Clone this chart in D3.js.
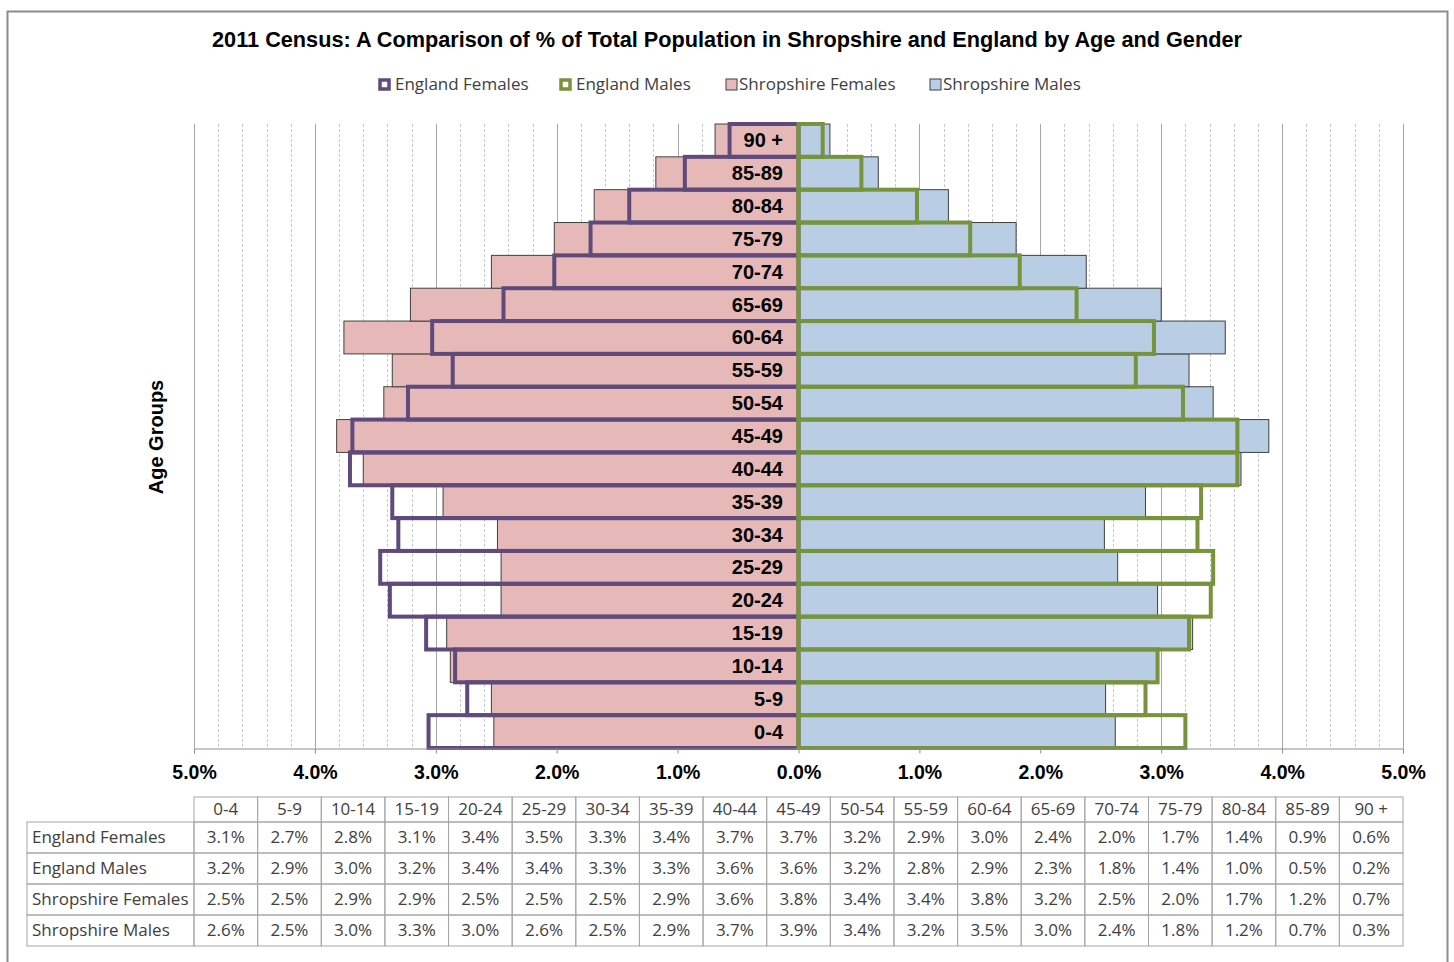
<!DOCTYPE html>
<html>
<head>
<meta charset="utf-8">
<script src="https://cdn.jsdelivr.net/npm/d3@7"></script>
<style>
  body { margin: 0; background: #fff; }
  svg { display: block; }
</style>
</head>
<body>
<div id="chart"></div>
<script>
// Age groups, youngest first
const ageGroups = ["0-4", "5-9", "10-14", "15-19", "20-24", "25-29", "30-34", "35-39", "40-44",
  "45-49", "50-54", "55-59", "60-64", "65-69", "70-74", "75-79", "80-84", "85-89", "90 +"];

// % of total population
const englandFemales = [3.06, 2.74, 2.84, 3.08, 3.38, 3.46, 3.31, 3.36, 3.71, 3.69,
  3.23, 2.86, 3.03, 2.44, 2.02, 1.72, 1.40, 0.94, 0.57];
const englandMales = [3.20, 2.87, 2.97, 3.23, 3.41, 3.43, 3.30, 3.33, 3.63, 3.63,
  3.18, 2.79, 2.94, 2.30, 1.83, 1.42, 0.98, 0.52, 0.20];
const shropshireFemales = [2.52, 2.54, 2.88, 2.91, 2.46, 2.46, 2.49, 2.94, 3.60, 3.82,
  3.43, 3.36, 3.76, 3.21, 2.54, 2.02, 1.69, 1.18, 0.69];
const shropshireMales = [2.62, 2.54, 2.97, 3.26, 2.97, 2.64, 2.53, 2.87, 3.66, 3.89,
  3.43, 3.23, 3.53, 3.00, 2.38, 1.80, 1.24, 0.66, 0.26];

const axisTicks = [-5, -4, -3, -2, -1, 0, 1, 2, 3, 4, 5];

const series = [
  { name: "England Females", values: englandFemales, side: -1, kind: "outline", color: "#604a7b" },
  { name: "England Males", values: englandMales, side: 1, kind: "outline", color: "#77933c" },
  { name: "Shropshire Females", values: shropshireFemales, side: -1, kind: "fill", color: "#e6b9b8" },
  { name: "Shropshire Males", values: shropshireMales, side: 1, kind: "fill", color: "#b9cde5" }
];

const width = 1454, height = 962;
const sans = "'Liberation Sans', Arial, sans-serif";
const calibri = "'Open Sans', 'Noto Sans', sans-serif";

const svg = d3.select("#chart").append("svg")
  .attr("width", width)
  .attr("height", height);

// outer frame
svg.append("rect")
  .attr("x", 7.5).attr("y", 11.5)
  .attr("width", 1440).attr("height", 960)
  .attr("fill", "#fff")
  .attr("stroke", "#8c8c8c")
  .attr("stroke-width", 2);

const x = d3.scaleLinear().domain([-5, 5]).range([194, 1403]);
const y = d3.scaleBand().domain(ageGroups.slice().reverse()).range([124, 748]).padding(0);

// Title
svg.append("text")
  .attr("x", 727).attr("y", 47)
  .attr("text-anchor", "middle")
  .attr("font-family", sans)
  .attr("font-weight", "bold")
  .attr("font-size", "21.7px")
  .attr("fill", "#000")
  .text("2011 Census: A Comparison of % of Total Population in Shropshire and England by Age and Gender");

// Legend
const legendX = [378, 559, 725, 929];
const legend = svg.append("g").selectAll("g")
  .data(series)
  .join("g")
  .attr("transform", (d, i) => `translate(${legendX[i]},84)`);

legend.append("rect")
  .attr("x", d => d.kind === "outline" ? 2 : 1)
  .attr("y", d => d.kind === "outline" ? -4 : -5)
  .attr("width", d => d.kind === "outline" ? 9 : 11)
  .attr("height", d => d.kind === "outline" ? 9 : 11)
  .attr("fill", d => d.kind === "outline" ? "#fff" : d.color)
  .attr("stroke", d => d.kind === "outline" ? d.color : "#404040")
  .attr("stroke-width", d => d.kind === "outline" ? 3.5 : 1);

legend.append("text")
  .attr("x", d => d.kind === "outline" ? 17 : 14)
  .attr("y", 6)
  .attr("font-family", calibri)
  .attr("font-size", "17px")
  .attr("fill", "#404040")
  .text(d => d.name);

// Gridlines: minor every 0.2%, major every 1%
const minor = d3.range(-50, 51, 2).map(v => v / 10).filter(v => Math.abs(v % 1) > 0.01);
svg.append("g").selectAll("line")
  .data(minor)
  .join("line")
  .attr("x1", d => Math.round(x(d)) + 0.5).attr("x2", d => Math.round(x(d)) + 0.5)
  .attr("y1", 124).attr("y2", 748)
  .attr("stroke", "#c8c8c8")
  .attr("stroke-dasharray", "3,2");

svg.append("g").selectAll("line")
  .data(axisTicks)
  .join("line")
  .attr("x1", d => Math.round(x(d)) + 0.5).attr("x2", d => Math.round(x(d)) + 0.5)
  .attr("y1", 124).attr("y2", 748)
  .attr("stroke", "#a6a6a6");

// Shropshire filled bars
const fills = series.filter(s => s.kind === "fill");
fills.forEach(s => {
  svg.append("g").selectAll("rect")
    .data(s.values)
    .join("rect")
    .attr("x", v => Math.min(x(0), x(s.side * v)))
    .attr("y", (v, i) => y(ageGroups[i]))
    .attr("width", v => Math.abs(x(s.side * v) - x(0)))
    .attr("height", y.bandwidth())
    .attr("fill", s.color)
    .attr("stroke", "#404040")
    .attr("stroke-width", 1);
});

// England outline bars
const outlines = series.filter(s => s.kind === "outline");
outlines.forEach(s => {
  svg.append("g").selectAll("rect")
    .data(s.values)
    .join("rect")
    .attr("x", v => Math.min(x(0), x(s.side * v)))
    .attr("y", (v, i) => y(ageGroups[i]))
    .attr("width", v => Math.abs(x(s.side * v) - x(0)))
    .attr("height", y.bandwidth())
    .attr("fill", "none")
    .attr("stroke", s.color)
    .attr("stroke-width", 4);
});

// X axis
const xAxis = d3.axisBottom(x)
  .tickValues(axisTicks)
  .tickSize(5)
  .tickFormat(d => Math.abs(d).toFixed(1) + "%");

const gx = svg.append("g")
  .attr("transform", "translate(0,748.5)")
  .call(xAxis);
gx.select(".domain").attr("stroke", "#8c8c8c");
gx.selectAll(".tick line").attr("stroke", "#8c8c8c");
gx.selectAll(".tick text")
  .attr("y", 17)
  .attr("font-family", sans)
  .attr("font-weight", "bold")
  .attr("font-size", "19.5px")
  .attr("fill", "#000");

// Age group labels
svg.append("g").selectAll("text")
  .data(ageGroups)
  .join("text")
  .attr("x", 783)
  .attr("y", d => y(d) + y.bandwidth() / 2 + 7)
  .attr("text-anchor", "end")
  .attr("font-family", sans)
  .attr("font-weight", "bold")
  .attr("font-size", "20px")
  .attr("fill", "#000")
  .text(d => d);

// Y axis title
svg.append("text")
  .attr("transform", "translate(163,437) rotate(-90)")
  .attr("text-anchor", "middle")
  .attr("font-family", sans)
  .attr("font-weight", "bold")
  .attr("font-size", "20px")
  .attr("fill", "#000")
  .text("Age Groups");

// Data table
const tableTop = 797, headerH = 25, rowH = 31;
const labelLeft = 27;
const colW = (x(5) - x(-5)) / ageGroups.length;
const table = svg.append("g").attr("font-family", calibri).attr("font-size", "17px").attr("fill", "#404040");

ageGroups.forEach((g, i) => {
  const cx = x(-5) + i * colW;
  table.append("rect")
    .attr("x", cx).attr("y", tableTop)
    .attr("width", colW).attr("height", headerH)
    .attr("fill", "none").attr("stroke", "#a6a6a6");
  table.append("text")
    .attr("x", cx + colW / 2).attr("y", tableTop + 18)
    .attr("text-anchor", "middle")
    .text(g);
});

series.forEach((s, r) => {
  const ry = tableTop + headerH + r * rowH;
  table.append("rect")
    .attr("x", labelLeft).attr("y", ry)
    .attr("width", x(-5) - labelLeft).attr("height", rowH)
    .attr("fill", "none").attr("stroke", "#a6a6a6");
  table.append("text")
    .attr("x", labelLeft + 5).attr("y", ry + 21)
    .text(s.name);
  s.values.forEach((v, i) => {
    const cx = x(-5) + i * colW;
    table.append("rect")
      .attr("x", cx).attr("y", ry)
      .attr("width", colW).attr("height", rowH)
      .attr("fill", "none").attr("stroke", "#a6a6a6");
    table.append("text")
      .attr("x", cx + colW / 2).attr("y", ry + 21)
      .attr("text-anchor", "middle")
      .text(v.toFixed(1) + "%");
  });
});
</script>
</body>
</html>
